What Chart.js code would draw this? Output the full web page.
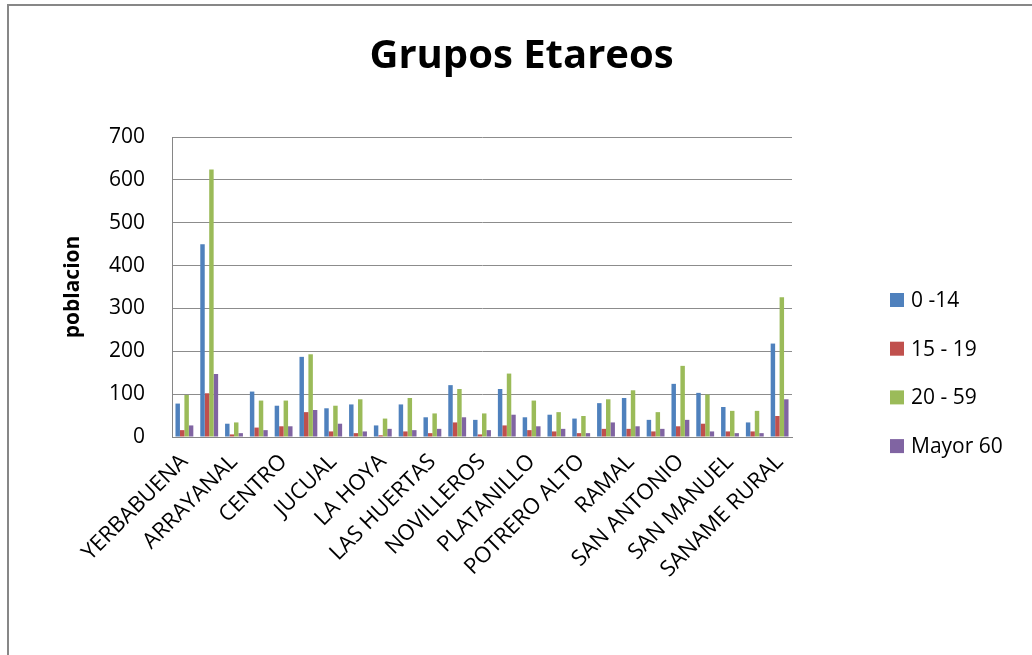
<!DOCTYPE html>
<html>
<head>
<meta charset="utf-8">
<script src="https://cdn.jsdelivr.net/npm/chart.js@4.4.1/dist/chart.umd.min.js"></script>
<style>
  html, body { margin: 0; padding: 0; background: #fff; }
  #frame {
    position: absolute; left: 7px; top: 4px;
    width: 1025px; height: 651px;
    border-left: 2px solid #878787; border-top: 2px solid #878787;
  }
  canvas { display: block; }
</style>
</head>
<body>
<div id="frame"><canvas id="chart" width="1025" height="651"></canvas></div>
<script>
// categories (only every other name is printed on the axis)
const veredas = [
  "YERBABUENA", "", "ARRAYANAL", "", "CENTRO", "", "JUCUAL", "", "LA HOYA", "",
  "LAS HUERTAS", "", "NOVILLEROS", "", "PLATANILLO", "", "POTRERO ALTO", "",
  "RAMAL", "", "SAN ANTONIO", "", "SAN MANUEL", "", "SANAME RURAL"
];

const grupo0a14 = [78, 450, 31, 106, 73, 187, 67, 76, 27, 76, 46, 121, 40, 112, 46, 52, 43, 79, 91, 40, 124, 103, 70, 34, 218];
const grupo15a19 = [16, 102, 6, 22, 25, 58, 13, 9, 4, 13, 9, 34, 6, 27, 16, 13, 9, 19, 19, 13, 25, 31, 13, 13, 49];
const grupo20a59 = [98, 624, 34, 85, 85, 193, 73, 88, 43, 91, 55, 112, 55, 148, 85, 58, 49, 88, 109, 58, 166, 99, 61, 61, 326];
const mayor60 = [27, 147, 9, 16, 25, 63, 31, 13, 19, 16, 19, 46, 16, 52, 25, 19, 9, 34, 25, 19, 40, 13, 9, 9, 88];

const seriesNames = ["0 -14", "15 - 19", "20 - 59", "Mayor 60"];
const seriesColors = ["#4F81BD", "#C0504D", "#9BBB59", "#8064A2"];

const FONT = "'Open Sans', 'Liberation Sans', sans-serif";

// legend drawn by hand so it sits where Excel put it
const sideLegend = {
  id: "sideLegend",
  afterDraw(chart) {
    const ctx = chart.ctx;
    ctx.save();
    ctx.font = "21px " + FONT;
    ctx.textBaseline = "middle";
    ctx.textAlign = "left";
    chart.data.datasets.forEach((ds, i) => {
      const y = 294 + i * 48.7;
      ctx.fillStyle = ds.backgroundColor;
      ctx.fillRect(881, y - 7, 14, 14);
      ctx.fillStyle = "#000";
      ctx.fillText(ds.label, 902, y + 1);
    });
    ctx.restore();
  }
};

new Chart(document.getElementById("chart"), {
  type: "bar",
  data: {
    labels: veredas,
    datasets: [
      { label: seriesNames[0], data: grupo0a14, backgroundColor: seriesColors[0] },
      { label: seriesNames[1], data: grupo15a19, backgroundColor: seriesColors[1] },
      { label: seriesNames[2], data: grupo20a59, backgroundColor: seriesColors[2] },
      { label: seriesNames[3], data: mayor60, backgroundColor: seriesColors[3] }
    ]
  },
  options: {
    responsive: false,
    animation: false,
    layout: { padding: 0 },
    datasets: {
      bar: { categoryPercentage: 0.72, barPercentage: 1.0, borderWidth: 0 }
    },
    plugins: {
      legend: { display: false },
      tooltip: { enabled: false },
      title: {
        display: true,
        text: "Grupos Etareos",
        color: "#000",
        font: { family: FONT, size: 40, weight: "bold" },
        padding: { top: 27, bottom: 56 }
      }
    },
    scales: {
      x: {
        grid: { display: false },
        border: { display: true, color: "#868686", width: 1 },
        ticks: {
          autoSkip: false,
          maxRotation: 45,
          minRotation: 45,
          padding: 4,
          color: "#000",
          font: { family: FONT, size: 22 }
        },
        afterFit(scale) { scale.height = 220; }
      },
      y: {
        min: 0,
        max: 700,
        ticks: {
          stepSize: 100,
          padding: 27,
          color: "#000",
          font: { family: FONT, size: 21 }
        },
        grid: { color: "#8c8c8c", lineWidth: 1, drawTicks: false },
        border: { display: true, color: "#868686", width: 1 },
        title: {
          display: true,
          text: "poblacion",
          color: "#000",
          font: { family: FONT, size: 21, weight: "bold" },
          padding: { top: 51, bottom: 0 }
        },
        afterFit(scale) { scale.width = 163; }
      },
      // empty right axis that only reserves the room for the legend
      side: {
        position: "right",
        display: true,
        grid: { display: false },
        border: { display: false },
        ticks: { display: false },
        afterFit(scale) { scale.width = 242; }
      }
    }
  },
  plugins: [sideLegend]
});
</script>
</body>
</html>
